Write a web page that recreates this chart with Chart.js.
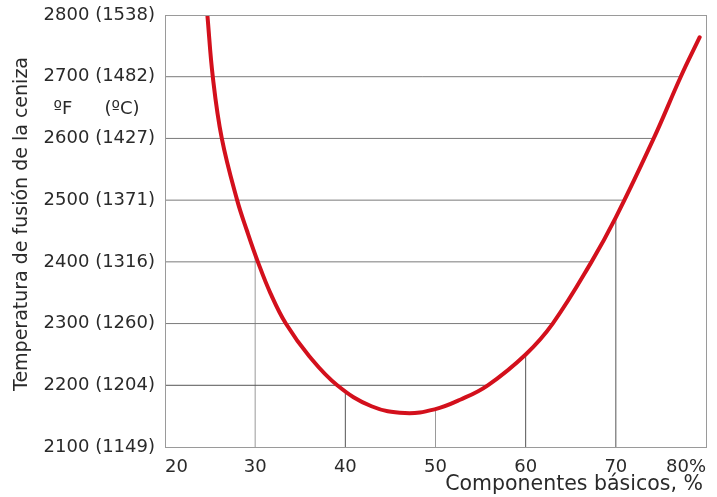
<!DOCTYPE html>
<html>
<head>
<meta charset="utf-8">
<script src="https://cdn.jsdelivr.net/npm/chart.js@4/dist/chart.umd.min.js"></script>
<style>
  html, body { margin: 0; padding: 0; background: #fff; }
  #wrap { width: 717px; height: 497px; position: relative; }
</style>
</head>
<body>
<div id="wrap"><canvas id="curveChart"></canvas></div>
<script>
// curve: basic components (%) vs ash fusion temperature (F)
var basicPct = [24.7, 25.3, 26.3, 28.0, 29.1, 30.3, 31.7, 33.4, 36.0, 39.1, 42.9, 46.6, 49.9, 52.8, 55.8, 60.0, 63.0, 67.3, 70.0, 74.2, 77.2, 79.3];
var fusionF = [2800, 2700, 2600, 2500, 2450, 2400, 2349, 2300, 2247, 2200, 2166, 2155, 2161, 2177, 2200, 2250, 2300, 2400, 2472, 2600, 2700, 2764];

var tempTicksF = [2100, 2200, 2300, 2400, 2500, 2600, 2700, 2800];
var tempTicksC = [1149, 1204, 1260, 1316, 1371, 1427, 1482, 1538];
var pctTicks = [20, 30, 40, 50, 60, 70, 80];

// guide lines running to the curve
var dropPct = [30, 40, 50, 60, 70];
var dropTemp = [2200, 2300, 2400, 2500, 2600, 2700];

var FONT = "'DejaVu Sans', sans-serif";

// y on the curve for a given x (linear between read points)
function curveAt(x) {
  for (var i = 0; i < basicPct.length - 1; i++) {
    if (x >= basicPct[i] && x <= basicPct[i + 1]) {
      var t = (x - basicPct[i]) / (basicPct[i + 1] - basicPct[i]);
      return fusionF[i] + t * (fusionF[i + 1] - fusionF[i]);
    }
  }
  return fusionF[fusionF.length - 1];
}

// x on the rising (right) branch where the curve reaches y
function rightBranchAt(y) {
  var low = fusionF.indexOf(Math.min.apply(null, fusionF));
  for (var i = low; i < fusionF.length - 1; i++) {
    if (y >= fusionF[i] && y <= fusionF[i + 1]) {
      var t = (y - fusionF[i]) / (fusionF[i + 1] - fusionF[i]);
      return basicPct[i] + t * (basicPct[i + 1] - basicPct[i]);
    }
  }
  return basicPct[basicPct.length - 1];
}

var curvePoints = [];
for (var i = 0; i < basicPct.length; i++) {
  curvePoints.push({ x: basicPct[i], y: fusionF[i] });
}

var datasets = [{
  data: curvePoints,
  showLine: true,
  borderColor: '#d3101c',
  borderWidth: 4,
  pointRadius: 0,
  tension: 0.4,
  borderCapStyle: 'round'
}];

dropTemp.forEach(function(t) {
  datasets.push({
    data: [{ x: 20, y: t }, { x: rightBranchAt(t), y: t }],
    showLine: true,
    borderColor: t === 2200 ? '#555' : '#7a7a7a',
    borderWidth: 1,
    pointRadius: 0
  });
});

dropPct.forEach(function(p) {
  datasets.push({
    data: [{ x: p, y: 2100 }, { x: p, y: curveAt(p) }],
    showLine: true,
    borderColor: (p === 30 || p === 50) ? '#9a9a9a' : '#555',
    borderWidth: 1,
    pointRadius: 0
  });
});

var extraText = {
  id: 'extraText',
  afterDraw: function(chart) {
    var ctx = chart.ctx;
    var area = chart.chartArea;
    ctx.save();
    // frame
    ctx.strokeStyle = '#9a9a9a';
    ctx.lineWidth = 1;
    ctx.strokeRect(area.left + 0.5, area.top + 0.5, area.right - area.left, area.bottom - area.top);

    ctx.fillStyle = '#2a2a2a';
    ctx.textBaseline = 'middle';
    ctx.font = '18px ' + FONT;
    ctx.textAlign = 'center';
    ctx.fillText('ºF', 63, 109);
    ctx.fillText('(ºC)', 122, 109);

    ctx.font = '20.5px ' + FONT;
    ctx.textAlign = 'right';
    ctx.fillText('Componentes básicos, %', 703, 485);

    ctx.translate(22, 224);
    ctx.rotate(-Math.PI / 2);
    ctx.textAlign = 'center';
    ctx.font = '19px ' + FONT;
    ctx.fillText('Temperatura de fusión de la ceniza', 0, 0);
    ctx.restore();
  }
};

var ctx = document.getElementById('curveChart').getContext('2d');
var chart = new Chart(ctx, {
  type: 'scatter',
  data: { datasets: datasets },
  options: {
    responsive: true,
    maintainAspectRatio: false,
    animation: false,
    layout: { padding: { top: 15, right: 11, left: 0, bottom: 0 } },
    plugins: {
      legend: { display: false },
      tooltip: { enabled: false }
    },
    scales: {
      x: {
        type: 'linear',
        min: 20,
        max: 80,
        grid: { display: false },
        border: { display: false },
        afterBuildTicks: function(scale) {
          scale.ticks = pctTicks.map(function(v) { return { value: v }; });
        },
        afterFit: function(scale) {
          scale.height = 50;
          scale.paddingLeft = 0;
          scale.paddingRight = 0;
        },
        ticks: {
          align: 'inner',
          autoSkip: false,
          padding: 2,
          color: '#2a2a2a',
          font: { family: FONT, size: 18 },
          maxRotation: 0,
          callback: function(v) { return v === 80 ? '80%' : String(v); }
        }
      },
      y: {
        type: 'linear',
        min: 2100,
        max: 2800,
        grid: { display: false },
        border: { display: false },
        afterBuildTicks: function(scale) {
          scale.ticks = tempTicksF.map(function(v) { return { value: v }; });
        },
        afterFit: function(scale) {
          scale.width = 165;
          scale.paddingTop = 0;
          scale.paddingBottom = 0;
        },
        ticks: {
          padding: 2,
          color: '#2a2a2a',
          font: { family: FONT, size: 18 },
          callback: function(v) {
            var k = tempTicksF.indexOf(v);
            return v + ' (' + tempTicksC[k] + ')';
          }
        }
      }
    }
  },
  plugins: [extraText]
});
</script>
</body>
</html>
